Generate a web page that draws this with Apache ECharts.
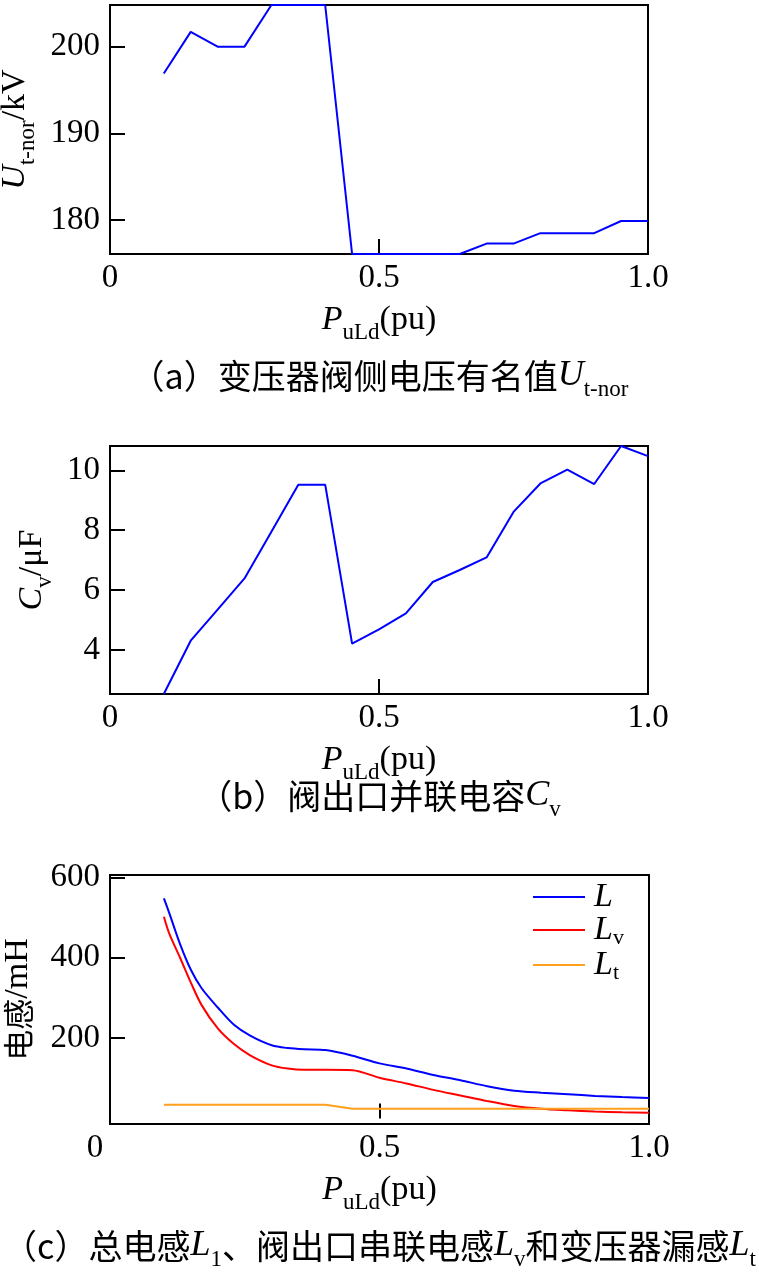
<!DOCTYPE html>
<html lang="zh">
<head>
  <meta charset="UTF-8">
  <title>PuLd</title>
  <script src="https://cdn.jsdelivr.net/npm/echarts@6.0.0/dist/echarts.min.js"></script>
  <style>
    html, body { margin: 0; padding: 0; background: #fff; }
  </style>
</head>
<body>
<div id="main" style="width: 759px;height:1275px;"></div>
<script type="text/javascript">
  var SERIF = '"Liberation Serif", "Times New Roman", serif';
  var CJK = '"Noto Sans CJK SC", sans-serif';

  // x 坐标 (pu)
  const puAB = [0.1, 0.15, 0.2, 0.25, 0.3, 0.35, 0.4, 0.45, 0.5, 0.55, 0.6, 0.65, 0.7, 0.75, 0.8, 0.85, 0.9, 0.95, 1.0];
  // (a) 变压器阀侧电压有名值 kV
  const uTnor = [196.9, 201.7, 200.0, 200.0, 204.8, 204.8, 204.8, 176.1, 176.1, 176.1, 176.1, 176.1, 177.3, 177.3, 178.5, 178.5, 178.5, 179.9, 179.9];
  // (b) 阀出口并联电容 uF
  const capCv = [2.53, 4.31, 5.35, 6.39, 7.95, 9.52, 9.52, 4.21, 4.69, 5.22, 6.27, 6.67, 7.09, 8.61, 9.56, 10.02, 9.54, 10.81, 10.47];

  // (c) 电感 mH
  const puC = [0.10, 0.11, 0.13, 0.15, 0.17, 0.20, 0.23, 0.26, 0.30, 0.33, 0.36, 0.40, 0.45, 0.50, 0.55, 0.60, 0.65, 0.70, 0.75, 0.80, 0.85, 0.90, 0.95, 1.00];
  const indL  = [548, 511, 434, 370, 324, 276, 233, 206, 182, 175, 172, 170, 156, 137, 124, 108, 95, 80, 69, 64, 60, 56, 53, 51];
  const indLv = [502, 460, 400, 338, 282, 224, 185, 157, 132, 124, 121, 121, 120, 101, 87, 71, 57, 43, 31, 24, 20, 17, 15, 14];
  const indLt = [34, 34, 34, 34, 34, 34, 34, 34, 34, 34, 34, 34, 24, 24, 24, 24, 24, 24, 24, 24, 24, 24, 24, 24];

  // 刻度
  const xTicks = [0, 0.5, 1.0];
  const yTicksA = [180, 190, 200];
  const yTicksB = [4, 6, 8, 10];
  const yTicksC = [200, 400, 600];

  function pairs(xs, ys) {
    return xs.map(function (x, i) { return [x, ys[i]]; });
  }

  var rich = {
    i: {fontFamily: SERIF, fontStyle: 'italic', fontSize: 34, color: '#000', lineHeight: 38},
    n: {fontFamily: SERIF, fontSize: 34, color: '#000', lineHeight: 38},
    s: {fontFamily: SERIF, fontSize: 23, color: '#000', lineHeight: 12, padding: [26, 0, 0, 0]},
    c: {fontFamily: CJK, fontSize: 31, color: '#000', lineHeight: 38},
    l: {fontFamily: SERIF, fontSize: 33, color: '#000', padding: [0, 30, 0, 0]}
  };

  var capRich = {
    i: {fontFamily: SERIF, fontStyle: 'italic', fontSize: 36, color: '#000', lineHeight: 40},
    s: {fontFamily: SERIF, fontSize: 23, color: '#000', lineHeight: 12, padding: [28, 0, 0, 0]}
  };

  var legRich = {
    i: {fontFamily: SERIF, fontStyle: 'italic', fontSize: 34, color: '#000', lineHeight: 26},
    s: {fontFamily: SERIF, fontSize: 22, color: '#000', lineHeight: 10, padding: [16, 0, 0, 0]}
  };

  var grids = [
    {left: 110, right: 111, top: 5, height: 249},
    {left: 110, right: 111, top: 446, height: 248},
    {left: 110, right: 110, top: 875, height: 249}
  ].map(function (g) {
    g.show = true;
    g.borderColor = '#000';
    g.borderWidth = 2;
    g.backgroundColor = 'transparent';
    g.containLabel = false;
    g.outerBoundsMode = 'none';
    return g;
  });

  function xAxisOf(gi) {
    return {
      gridIndex: gi,
      type: 'value',
      min: 0,
      max: 1,
      name: '{i|P}{s|uLd}{n|(pu)}',
      nameLocation: 'middle',
      nameGap: 46,
      nameTextStyle: {rich: rich, lineHeight: 38},
      axisLine: {show: false},
      axisTick: {show: true, inside: true, length: 15, customValues: xTicks, lineStyle: {color: '#000', width: 2}},
      axisLabel: {
        customValues: xTicks,
        margin: 8,
        fontFamily: SERIF,
        fontSize: 33,
        color: '#000',
        rich: rich,
        formatter: function (v) {
          if (v === 0) return gi === 2 ? '{l|0}' : '0';
          return v.toFixed(1);
        }
      },
      splitLine: {show: false}
    };
  }

  function yAxisOf(gi, min, max, ticks, name, gap) {
    return {
      gridIndex: gi,
      type: 'value',
      min: min,
      max: max,
      name: name,
      nameLocation: 'middle',
      nameRotate: 90,
      nameGap: gap,
      nameTextStyle: {rich: rich, lineHeight: 38},
      axisLine: {show: false},
      axisTick: {show: true, inside: true, length: 15, customValues: ticks, lineStyle: {color: '#000', width: 2}},
      axisLabel: {
        customValues: ticks,
        margin: 10,
        fontFamily: SERIF,
        fontSize: 33,
        color: '#000'
      },
      splitLine: {show: false}
    };
  }

  var myChart = echarts.init(document.getElementById('main'), null, {renderer: 'canvas'});

  var capStyle = {fontFamily: CJK, fontSize: 34, fontWeight: 'normal', color: '#000', lineHeight: 40, rich: capRich};

  myChart.setOption({
    animation: false,
    backgroundColor: '#fff',
    title: [
      {
        text: '（a）变压器阀侧电压有名值{i|U}{s|t-nor}',
        left: 'center', top: 356, padding: 0, textStyle: capStyle
      },
      {
        text: '（b）阀出口并联电容{i|C}{s|v}',
        left: 'center', top: 776, padding: 0, textStyle: capStyle
      },
      {
        text: '（c）总电感{i|L}{s|1}、阀出口串联电感{i|L}{s|v}和变压器漏感{i|L}{s|t}',
        left: 'center', top: 1226, padding: 0, textStyle: capStyle
      }
    ],
    legend: {
      orient: 'vertical',
      left: 533,
      top: 880,
      itemWidth: 52,
      itemHeight: 2,
      itemGap: -3,
      padding: 0,
      icon: 'rect',
      data: ['L', 'Lv', 'Lt'],
      formatter: function (name) {
        if (name === 'L') return '{i|L}';
        return '{i|L}{s|' + name.slice(1) + '}';
      },
      textStyle: {rich: legRich, padding: [0, 0, 0, 4]}
    },
    grid: grids,
    xAxis: [xAxisOf(0), xAxisOf(1), xAxisOf(2)],
    yAxis: [
      yAxisOf(0, 176.1, 204.8, yTicksA, '{i|U}{s|t-nor}{n|/kV}', 71),
      yAxisOf(1, 2.53, 10.81, yTicksB, '{i|C}{s|v}{n|/μF}', 52),
      yAxisOf(2, -14, 606, yTicksC, '{c|电感}{n|/mH}', 73)
    ],
    series: [
      {
        name: 'Ut', type: 'line', xAxisIndex: 0, yAxisIndex: 0,
        data: pairs(puAB, uTnor), symbol: 'none',
        lineStyle: {color: '#0000ff', width: 2}
      },
      {
        name: 'Cv', type: 'line', xAxisIndex: 1, yAxisIndex: 1,
        data: pairs(puAB, capCv), symbol: 'none',
        lineStyle: {color: '#0000ff', width: 2}
      },
      {
        name: 'L', type: 'line', xAxisIndex: 2, yAxisIndex: 2,
        data: pairs(puC, indL), symbol: 'none', smooth: 0.3,
        lineStyle: {color: '#0000ff', width: 2}, itemStyle: {color: '#0000ff'}
      },
      {
        name: 'Lv', type: 'line', xAxisIndex: 2, yAxisIndex: 2,
        data: pairs(puC, indLv), symbol: 'none', smooth: 0.3,
        lineStyle: {color: '#ff0000', width: 2}, itemStyle: {color: '#ff0000'}
      },
      {
        name: 'Lt', type: 'line', xAxisIndex: 2, yAxisIndex: 2,
        data: pairs(puC, indLt), symbol: 'none',
        lineStyle: {color: '#ffa01e', width: 2}, itemStyle: {color: '#ffa01e'}
      }
    ]
  });
</script>
</body>
</html>
